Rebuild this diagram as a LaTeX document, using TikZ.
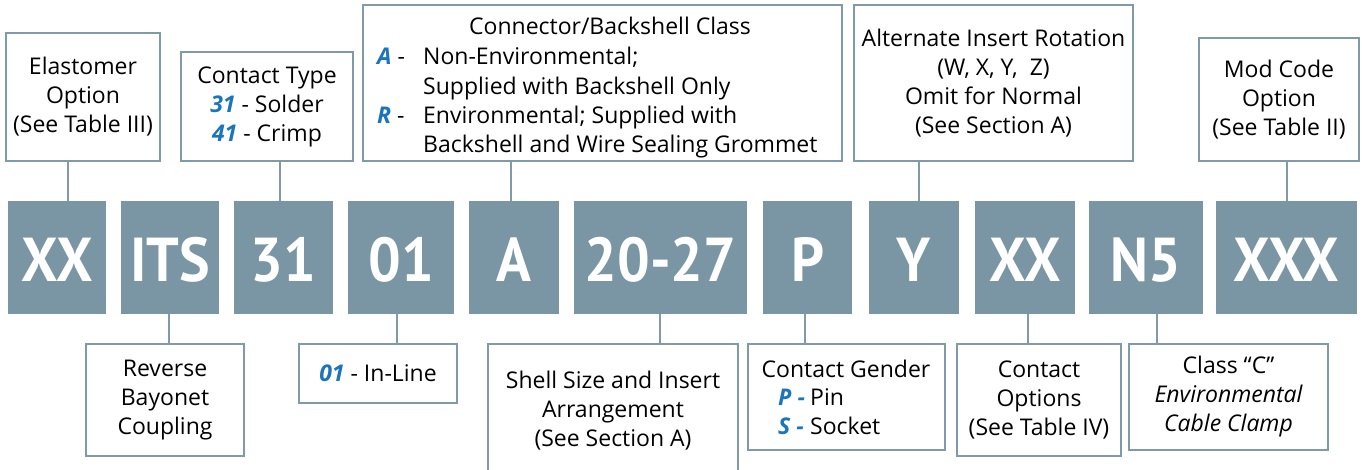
\documentclass[tikz,border=0pt]{standalone}
\usepackage{fontspec}
\setmainfont{Open Sans}
\newfontfamily\codefont[FakeStretch=0.93]{PT Sans}
\usetikzlibrary{calc}
\definecolor{codecol}{RGB}{122,149,163}
\definecolor{linecol}{RGB}{128,154,168}
\definecolor{keyblue}{RGB}{27,117,188}
\newcommand{\kb}[1]{\textcolor{keyblue}{\bfseries\itshape #1}}
\newcommand{\lfont}{\fontsize{23}{29}\selectfont}
\begin{document}
\begin{tikzpicture}[x=1pt,y=-1pt,
  lbl/.style={draw=linecol, line width=2.5pt, fill=white, inner sep=0pt, align=center, font=\lfont},
  code/.style={fill=codecol, inner sep=0pt, minimum height=113pt, text height=48pt, text depth=0pt, text=white, font=\codefont\bfseries\fontsize{62}{62}\selectfont},
  conn/.style={draw=linecol, line width=2.5pt},
  txt/.style={inner sep=0pt, font=\lfont}]
\useasboundingbox (0,0) rectangle (1362,470);

% code boxes
\node[code, minimum width=98pt]  (cXX)  at (57,257.5)   {XX};
\node[code, minimum width=98pt]  (cITS) at (170,257.5)  {ITS};
\node[code, minimum width=99pt]  (c31)  at (283.5,257.5){31};
\node[code, minimum width=106pt] (c01)  at (401,257.5)  {01};
\node[code, minimum width=90pt]  (cA)   at (514,257.5)  {A};
\node[code, minimum width=173pt] (cSz)  at (660.5,257.5){20-27};
\node[code, minimum width=89pt]  (cP)   at (807.5,257.5){P};
\node[code, minimum width=90pt]  (cY)   at (914,257.5)  {Y};
\node[code, minimum width=100pt] (cXX2) at (1025,257.5) {XX};
\node[code, minimum width=114pt] (cN5)  at (1146,257.5) {N5};
\node[code, minimum width=141pt] (cXXX) at (1286.5,257.5){XXX};

% top label boxes
\node[lbl, minimum width=154pt, minimum height=128pt] (elast) at (83,97)
  {Elastomer\\Option\\(See Table III)};
\node[lbl, minimum width=172pt, minimum height=109pt] (ctype) at (267,106.5)
  {Contact Type\\\kb{31} - Solder\\\kb{41} - Crimp};
\node[lbl, minimum width=479pt, minimum height=156pt] (cls) at (602.5,83) {};
\node[txt, anchor=base] (clsT) at (610,35) {Connector/Backshell Class};
\node[txt, anchor=base west] (clsA) at (377,65) {\makebox[46pt][l]{\kb{A} -}Non-Environmental;};
\node[txt, anchor=base west] (cls2) at (423,95) {Supplied with Backshell Only};
\node[txt, anchor=base west] (clsR) at (377,124) {\makebox[46pt][l]{\kb{R} -}Environmental; Supplied with};
\node[txt, anchor=base west] (cls4) at (423,153) {Backshell and Wire Sealing Grommet};
\node[lbl, minimum width=279pt, minimum height=156pt] (alt) at (993.5,83)
  {Alternate Insert Rotation\\(W, X, Y,\ \ Z)\\Omit for Normal\\(See Section A)};
\node[lbl, minimum width=160pt, minimum height=123pt] (mod) at (1279,99.5)
  {Mod Code\\Option\\(See Table II)};

% bottom label boxes
\node[lbl, minimum width=158pt, minimum height=112pt] (rev) at (165,400)
  {Reverse\\Bayonet\\Coupling};
\node[lbl, minimum width=158pt, minimum height=59pt] (inl) at (378,373.5)
  {\kb{01} - In-Line};
\node[lbl, minimum width=250pt, minimum height=146pt] (shell) at (613,417) {};
\node[txt, align=center] (shellT) at (613,411)
  {Shell Size and Insert\\Arrangement\\(See Section A)};
\node[lbl, minimum width=197pt, minimum height=106pt] (gen) at (846.5,397) {};
\node[txt, anchor=base] (genT) at (846,377) {Contact Gender};
\node[txt, anchor=base west] (genP) at (778,405) {\makebox[32pt][l]{\kb{P -}}Pin};
\node[txt, anchor=base west] (genS) at (778,434) {\makebox[32pt][l]{\kb{S -}}Socket};
\node[lbl, minimum width=164pt, minimum height=112pt] (opt) at (1039,400)
  {Contact\\Options\\(See Table IV)};
\node[lbl, minimum width=199pt, minimum height=106pt] (clc) at (1228.5,397)
  {Class \textquotedblleft C\textquotedblright\\\itshape Environmental\\\itshape Cable Clamp};

% connectors
\draw[conn] ($(cXX.north)+(11,0)$) -- ($(elast.south)+(-15,0)$);
\draw[conn] ($(c31.north)+(-3.5,0)$) -- ($(ctype.south)+(13,0)$);
\draw[conn] ($(cA.north)+(-3,0)$) -- ($(cls.south)+(-91.5,0)$);
\draw[conn] ($(cY.north)+(5,0)$) -- ($(alt.south)+(-74.5,0)$);
\draw[conn] ($(cXXX.north)+(0.5,0)$) -- ($(mod.south)+(8,0)$);
\draw[conn] ($(cITS.south)+(-1,0)$) -- ($(rev.north)+(4,0)$);
\draw[conn] ($(c01.south)+(-4,0)$) -- ($(inl.north)+(19,0)$);
\draw[conn] ($(cSz.south)+(-0.5,0)$) -- ($(shell.north)+(47,0)$);
\draw[conn] ($(cP.south)+(-2.5,0)$) -- ($(gen.north)+(-41.5,0)$);
\draw[conn] ($(cXX2.south)+(3,0)$) -- ($(opt.north)+(-11,0)$);
\draw[conn] ($(cN5.south)+(11,0)$) -- ($(clc.north)+(-71.5,0)$);
\end{tikzpicture}
\end{document}
